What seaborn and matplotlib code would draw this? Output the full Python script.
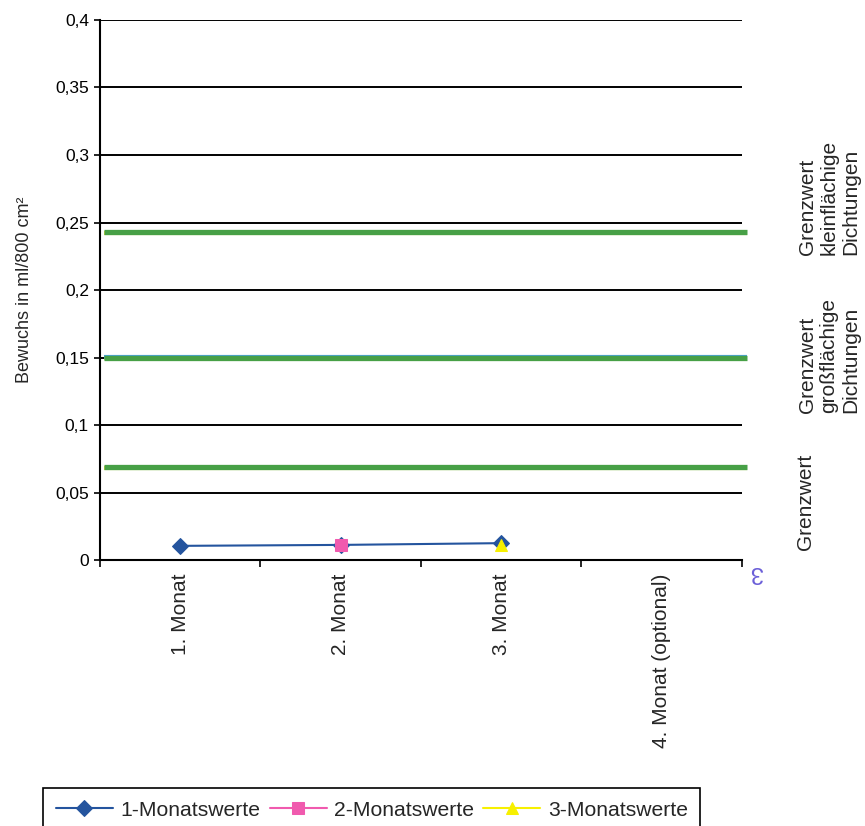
import matplotlib
matplotlib.use('Agg')
import matplotlib.pyplot as plt
import pandas as pd
import seaborn as sns
from matplotlib.ticker import FixedLocator, FuncFormatter

# Data
months = ['1. Monat', '2. Monat', '3. Monat', '4. Monat (optional)']
werte_1_monate = ['1. Monat', '2. Monat', '3. Monat']
werte_1 = [0.0105, 0.0112, 0.0125]
werte_2_monate = ['2. Monat']
werte_2 = [0.0112]
werte_3_monate = ['3. Monat']
werte_3 = [0.0115]
grenzwerte = [0.069, 0.15, 0.243]
grenz_labels = ['Grenzwert',
                'Grenzwert\ngroßflächige\nDichtungen',
                'Grenzwert\nkleinflächige\nDichtungen']
y_ticks = [0, 0.05, 0.1, 0.15, 0.2, 0.25, 0.3, 0.35, 0.4]

sns.set_style('white')
plt.rcParams['font.family'] = ['Liberation Sans', 'DejaVu Sans']


def to_frame(monate, werte):
    df = pd.DataFrame({'monat': monate, 'wert': werte})
    df['pos'] = df['monat'].map(months.index)
    return df


fig = plt.figure(figsize=(8.65, 8.26), dpi=100)
ax = fig.add_axes([0.1156, 0.322, 0.7422, 0.6538])

# black horizontal gridlines
ax.yaxis.grid(True, color='black', lw=1.4)
ax.set_axisbelow(True)

# Grenzwert lines (green, with slight yellow / blue fringes from the scan)
line_kw = dict(xmin=0.006, xmax=1.008, clip_on=False, solid_capstyle='butt')
for i, v in enumerate(grenzwerte):
    ax.axhline(v - 0.0006, color='#e3dc3c', lw=3, zorder=2, **line_kw)
    if i == 1:
        ax.axhline(v + 0.0007, color='#4aa3d2', lw=3, zorder=2, **line_kw)
    ax.axhline(v, color='#47a046', lw=3.8, zorder=3, **line_kw)

# measured values
sns.lineplot(data=to_frame(werte_1_monate, werte_1), x='pos', y='wert', ax=ax,
             color='#24549e', lw=1.5, marker='D', markersize=8,
             markeredgecolor='#24549e', label='1-Monatswerte', zorder=5)
sns.lineplot(data=to_frame(werte_2_monate, werte_2), x='pos', y='wert', ax=ax,
             color='#f05aae', lw=1.5, marker='s', markersize=8,
             markeredgecolor='#f05aae', label='2-Monatswerte', zorder=6)
sns.lineplot(data=to_frame(werte_3_monate, werte_3), x='pos', y='wert', ax=ax,
             color='#f7f000', lw=1.5, marker='^', markersize=9,
             markeredgecolor='#f7f000', label='3-Monatswerte', zorder=7)

# axes
ax.set_xlim(-0.5, len(months) - 0.5)
ax.set_ylim(0, 0.4)
ax.set_yticks(y_ticks)
ax.yaxis.set_major_formatter(FuncFormatter(lambda v, p: f'{v:g}'.replace('.', ',')))
ax.tick_params(axis='y', left=True, length=4, width=1.2, pad=4, labelsize=12.5, colors='black')

ax.set_xticks(range(len(months)))
ax.set_xticklabels(months, rotation=90, va='top', fontsize=15)
ax.xaxis.set_minor_locator(FixedLocator([i - 0.5 for i in range(len(months) + 1)]))
ax.tick_params(axis='x', which='major', length=0, pad=10)
ax.tick_params(axis='x', which='minor', bottom=True, length=5, width=1.2, color='black')

for s in ['top', 'right']:
    ax.spines[s].set_visible(False)
for s in ['left', 'bottom']:
    ax.spines[s].set_color('black')
    ax.spines[s].set_linewidth(1.5)

ax.set_xlabel('')
ax.set_ylabel('Bewuchs in ml/800 cm²', fontsize=13)
ax.yaxis.set_label_coords(-0.104, 0.5)

# labels of the limit lines on the right
fig.text(805 / 865, 1 - 550 / 826, grenz_labels[0], rotation=90, fontsize=15,
         ha='center', va='bottom', multialignment='left')
fig.text(829 / 865, 1 - 413 / 826, grenz_labels[1], rotation=90, fontsize=15,
         ha='center', va='bottom', multialignment='left')
fig.text(829 / 865, 1 - 255 / 826, grenz_labels[2], rotation=90, fontsize=15,
         ha='center', va='bottom', multialignment='left')

# handwritten mark from the scan
fig.text(757 / 865, 1 - 572 / 826, '3', rotation=180, fontsize=17,
         color='#6b5fd8', ha='center', va='center')

# legend at the bottom (frame runs off the lower edge like in the scan)
ax.legend(loc='upper left', bbox_to_anchor=(43 / 865, 1 - 788 / 826),
          bbox_transform=fig.transFigure, ncol=3, fontsize=15.2,
          frameon=True, fancybox=False, edgecolor='black', framealpha=1,
          handlelength=2.7, handletextpad=0.35, columnspacing=0.45,
          borderpad=0.6, borderaxespad=0)
ax.get_legend().get_frame().set_linewidth(1.2)

fig.savefig('out.png', dpi=100)
